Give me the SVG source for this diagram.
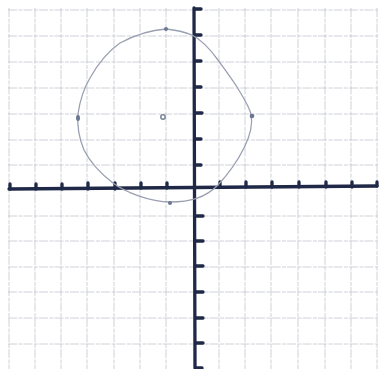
<svg xmlns="http://www.w3.org/2000/svg" width="380" height="369" viewBox="0 0 380 369">
<style>
.grid{stroke:#c3c7d1;stroke-width:0.8;stroke-dasharray:9 1.5 4 1;fill:none}
.axis{stroke:#1f2846;stroke-width:3.3;stroke-linecap:round;fill:none}
.tick{stroke:#1f2846;stroke-width:3.3;stroke-linecap:round}
.curve{stroke:#9aa0b2;stroke-width:1.3;fill:none;stroke-linecap:round;stroke-linejoin:round}
.pt{fill:#6b7790}
</style>
<rect width="380" height="369" fill="#ffffff"/>
<g id="grid">
<path class="grid" d="M9 8V369M35 8V369M61 8V369M87 8V369M114 8V369M140 8V369M166 8V369M219 8V369M245 8V369M271 8V369M298 8V369M325 8V369M351 8V369M377 8V369"/>
<path class="grid" d="M8 10H378M8 36H378M8 62H378M8 88H378M8 114H378M8 140H378M8 165H378M8 216H378M8 241H378M8 267H378M8 292H378M8 318H378M8 344H378"/>
</g>
<g id="axes">
<path class="axis" d="M9 189L377 186"/>
<path class="axis" d="M194 8L195 368"/>
<path class="tick" d="M195 9H201M195 35H201M195 61H201M195 87H201M195 113H202M195 139H201M195 165H201M196 216H203M196 241H203M196 266H203M196 292H203M196 318H203M196 343H203M196 368H202"/>
<path class="tick" d="M10 184V189M36 184V189M62 184V189M88 183V189M115 183V189M141 183V188M167 183V188M220 182V187M246 182V187M272 182V187M299 182V187M326 182V187M352 182V187M377 182V186"/>
</g>
<g id="circle">
<path class="curve" d="M166 29C175 30 182 31 192 35C202 40 210 49 218 60C226 71 232 79 237 87C243 97 249 106 251 114C253 124 250 136 244 148C238 160 230 172 218 185C205 198 190 202 170 202C150 202 125 192 113 183C100 173 90 162 84 150C79 138 77 126 78 114C80 100 84 88 90 78C100 60 110 50 120 43C135 35 150 30 166 29Z"/>
</g>
<g id="points">
<circle class="pt" cx="166" cy="29" r="2"/>
<circle class="pt" cx="252" cy="116" r="2.3"/>
<circle class="pt" cx="170" cy="203" r="2"/>
<ellipse class="pt" cx="78" cy="118" rx="2" ry="3"/>
<circle cx="163" cy="117" r="2.2" fill="none" stroke="#7a8498" stroke-width="1.5"/>
</g>
</svg>
